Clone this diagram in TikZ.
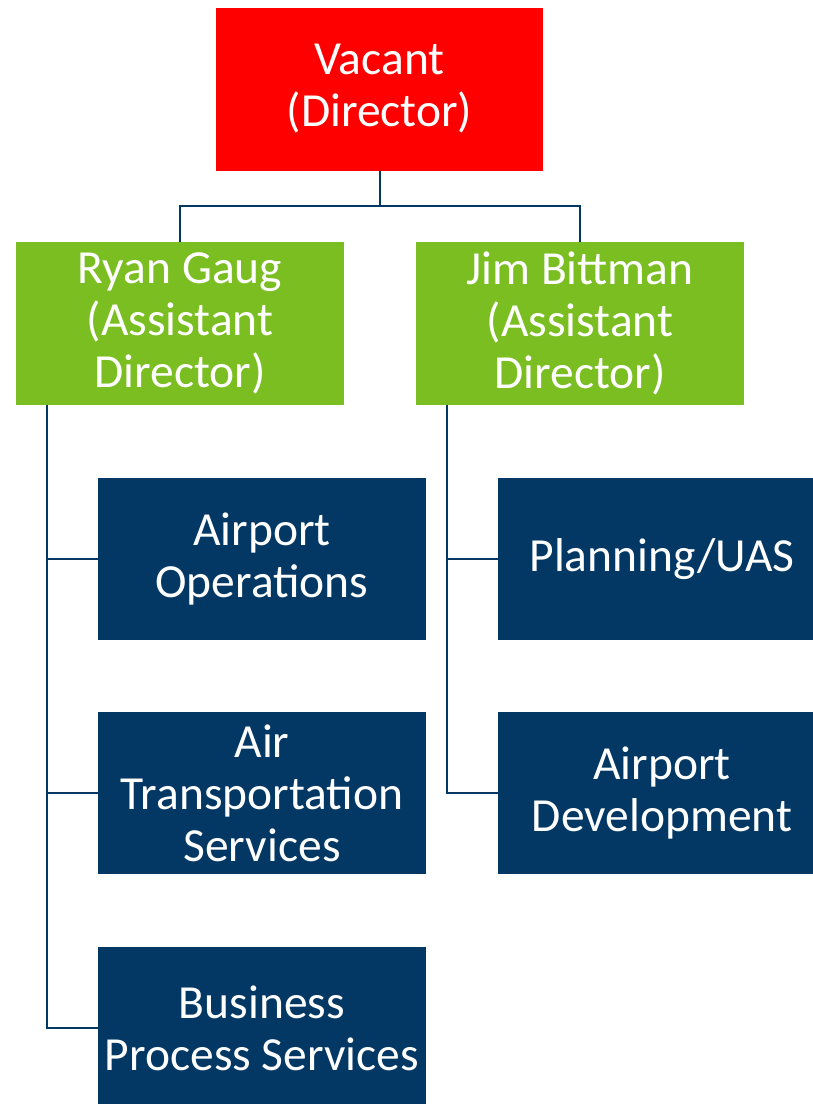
\documentclass[tikz,border=0pt]{standalone}
\usepackage{fontspec}
\setmainfont{Carlito}
\usetikzlibrary{positioning}
\definecolor{dirred}{HTML}{FF0000}
\definecolor{asstgreen}{HTML}{7BBE22}
\definecolor{unitnavy}{HTML}{033864}
\begin{document}
\begin{tikzpicture}[x=1pt, y=-1pt,
    orgbox/.style={rectangle, inner sep=0pt, text=white, align=center,
      font=\fontsize{47.5}{52}\selectfont, minimum width=328pt, minimum height=163pt},
    dirbox/.style={orgbox, fill=dirred, minimum width=327pt},
    asstbox/.style={orgbox, fill=asstgreen},
    unitbox/.style={orgbox, fill=unitnavy, minimum height=162pt},
    link/.style={draw=unitnavy, line width=2pt}]
        \useasboundingbox (0,0) rectangle (813,1104);
        % Director box
        \node[dirbox] (dir) at (379.5,89) {Vacant\\(Director)};

        % Assistant directors
        \node[asstbox] (ag1) at (180,323.5) {Ryan Gaug\\(Assistant\\Director)};
        \node[asstbox] (ag2) at (580,323.5) {Jim Bittman\\(Assistant\\Director)};

        % Units under Ryan Gaug
        \node[unitbox] (ops) at (262,559) {Airport\\Operations};
        \node[unitbox] (ats) at (262,793) {Air\\Transportation\\Services};
        \node[unitbox] (bps) at (262,1028) {Business\\Process Services};

        % Units under Jim Bittman
        \node[unitbox] (uas) at (662,559) {Planning/UAS};
        \node[unitbox] (dev) at (662,793) {Airport\\Development};

        % Connectors
        \draw[link] (dir.south) -- ++(0,35) -| (ag1.north);
        \draw[link] (dir.south) -- ++(0,35) -| (ag2.north);
        \foreach \u in {ops,ats,bps}
          \draw[link] ([xshift=-133pt]ag1.south) |- (\u.west);
        \foreach \u in {uas,dev}
          \draw[link] ([xshift=-133pt]ag2.south) |- (\u.west);
      \end{tikzpicture}
\end{document}
